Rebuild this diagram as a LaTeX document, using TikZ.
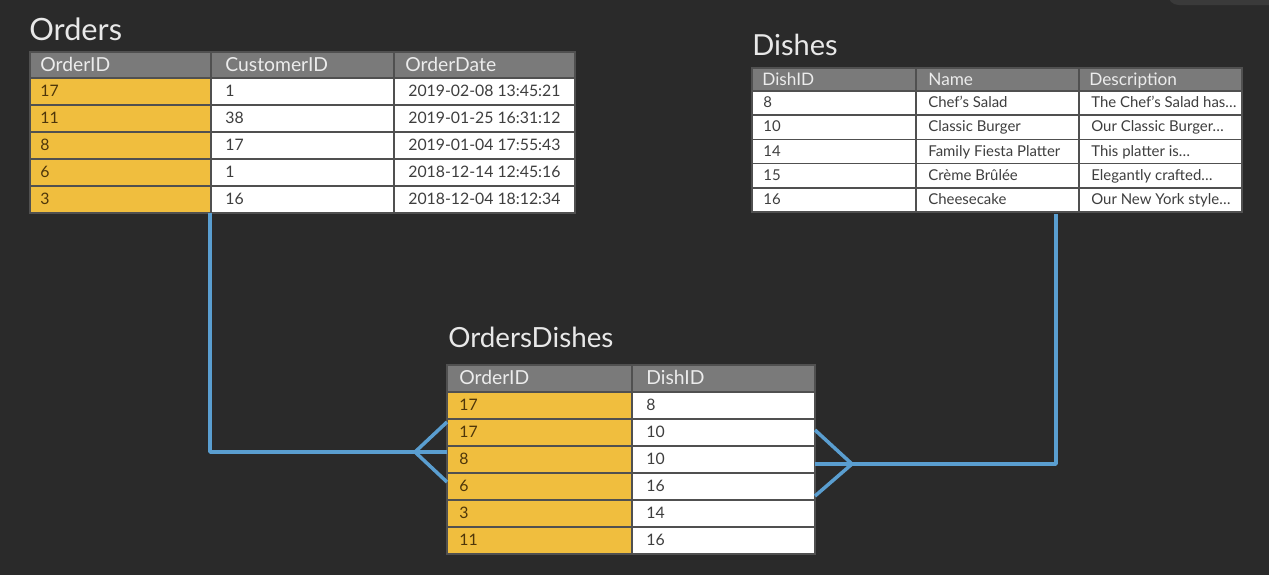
\documentclass[tikz,border=0pt]{standalone}
\usepackage{fontspec}
\setmainfont{Lato}
\usetikzlibrary{positioning}

\definecolor{bgdark}{RGB}{42,42,42}
\definecolor{tabshade}{RGB}{58,58,58}
\definecolor{headgray}{RGB}{122,122,122}
\definecolor{keygold}{RGB}{240,190,62}
\definecolor{cellline}{RGB}{80,80,80}
\definecolor{linkblue}{RGB}{90,158,208}
\definecolor{celltext}{RGB}{62,62,62}
\definecolor{keytext}{RGB}{78,54,10}
\definecolor{headtext}{RGB}{236,236,236}
\definecolor{titletext}{RGB}{232,232,232}

\tikzset{
  celltxt/.style={anchor=base west, inner sep=0pt, text=celltext, font=\fontsize{9}{11}\selectfont},
  keytxt/.style={celltxt, text=keytext},
  headtxt/.style={celltxt, text=headtext, font=\fontsize{11}{13}\selectfont},
  dishtxt/.style={celltxt, font=\fontsize{8.5}{10}\selectfont},
  dishhead/.style={headtxt, font=\fontsize{9.8}{11}\selectfont},
  tabtitle/.style={anchor=base west, inner sep=0pt, text=titletext},
  gridline/.style={draw=cellline, line width=1pt},
  link/.style={draw=linkblue, line width=2pt, line join=round}
}

\begin{document}
\begin{tikzpicture}[x=0.02cm, y=-0.02cm]
\useasboundingbox (0,0) rectangle (1269,575);
\fill[bgdark] (0,0) rectangle (1269,575);
\fill[tabshade, rounded corners=6] (1168,-10) rectangle (1280,5);

% Orders
\node[tabtitle, font=\fontsize{17.5}{20}\selectfont] (orderstitle) at (29,40) {Orders};
\fill[headgray] (30,52) rectangle (575,78);
\foreach \hx/\htxt [count=\j] in {40/OrderID, 225/CustomerID, 405/OrderDate}
  \node[headtxt] (ordh-\j) at (\hx,71) {\htxt};
\foreach \oid/\cid/\odate [count=\i] in {17/1/2019-02-08 13:45:21, 11/38/2019-01-25 16:31:12, 8/17/2019-01-04 17:55:43, 6/1/2018-12-14 12:45:16, 3/16/2018-12-04 18:12:34} {
  \fill[keygold] (30,{51+27*\i}) rectangle (211,{78+27*\i});
  \fill[white] (211,{51+27*\i}) rectangle (575,{78+27*\i});
  \node[keytxt] (ord-\i-a) at (40,{69.5+27*\i}) {\oid};
  \node[celltxt] (ord-\i-b) at (225,{69.5+27*\i}) {\cid};
  \node[celltxt] (ord-\i-c) at (408,{69.5+27*\i}) {\odate};
}
\draw[gridline] (30,52) rectangle (575,213);
\foreach \gx in {211,394} \draw[gridline] (\gx,52) -- (\gx,213);
\foreach \gy in {78,105,132,159,186} \draw[gridline] (30,\gy) -- (575,\gy);

% Dishes
\node[tabtitle, font=\fontsize{16.5}{19}\selectfont] (dishestitle) at (752,55) {Dishes};
\fill[headgray] (752,68) rectangle (1242,91);
\foreach \hx/\htxt [count=\j] in {762/DishID, 928/Name, 1089/Description}
  \node[dishhead] (dishh-\j) at (\hx,85) {\htxt};
\foreach \did/\dname/\ddesc [count=\i] in {8/Chef’s Salad/The Chef’s Salad has…, 10/Classic Burger/Our Classic Burger…, 14/Family Fiesta Platter/This platter is…, 15/Crème Brûlée/Elegantly crafted…, 16/Cheesecake/Our New York style…} {
  \fill[white] (752,{66.8+24.2*\i}) rectangle (1242,{91+24.2*\i});
  \node[dishtxt] (dish-\i-a) at (763,{83.4+24.2*\i}) {\did};
  \node[dishtxt] (dish-\i-b) at (928,{83.4+24.2*\i}) {\dname};
  \node[dishtxt] (dish-\i-c) at (1091,{83.4+24.2*\i}) {\ddesc};
}
\draw[gridline] (752,68) rectangle (1242,212);
\foreach \gx in {916,1079} \draw[gridline] (\gx,68) -- (\gx,212);
\foreach \gy in {91,115.2,139.4,163.6,187.8} \draw[gridline] (752,\gy) -- (1242,\gy);

% OrdersDishes
\node[tabtitle, font=\fontsize{15.8}{18}\selectfont] (odtitle) at (448,347) {OrdersDishes};
\fill[headgray] (447,365) rectangle (815,392);
\foreach \hx/\htxt [count=\j] in {459/OrderID, 646/DishID}
  \node[headtxt] (odh-\j) at (\hx,384) {\htxt};
\foreach \oid/\did [count=\i] in {17/8, 17/10, 8/10, 6/16, 3/14, 11/16} {
  \fill[keygold] (447,{365+27*\i}) rectangle (632,{392+27*\i});
  \fill[white] (632,{365+27*\i}) rectangle (815,{392+27*\i});
  \node[keytxt] (od-\i-a) at (459,{383.5+27*\i}) {\oid};
  \node[celltxt] (od-\i-b) at (646,{383.5+27*\i}) {\did};
}
\draw[gridline] (447,365) rectangle (815,554);
\draw[gridline] (632,365) -- (632,554);
\foreach \gy in {392,419,446,473,500,527} \draw[gridline] (447,\gy) -- (815,\gy);

% links
\coordinate (ordfoot) at (210,213);
\coordinate (crowL) at (415,452);
\coordinate (odLmid) at (447,452);
\coordinate (odLup) at (447,422);
\coordinate (odLdown) at (447,482);
\draw[link] (ordfoot) |- (crowL) -- (odLmid);
\draw[link] (odLup) -- (crowL) -- (odLdown);

\coordinate (dishfoot) at (1056,214);
\coordinate (crowR) at (852,464);
\coordinate (odRmid) at (815,464);
\coordinate (odRup) at (815,430);
\coordinate (odRdown) at (815,496);
\draw[link] (dishfoot) |- (crowR) -- (odRmid);
\draw[link] (odRup) -- (crowR) -- (odRdown);
\end{tikzpicture}
\end{document}
